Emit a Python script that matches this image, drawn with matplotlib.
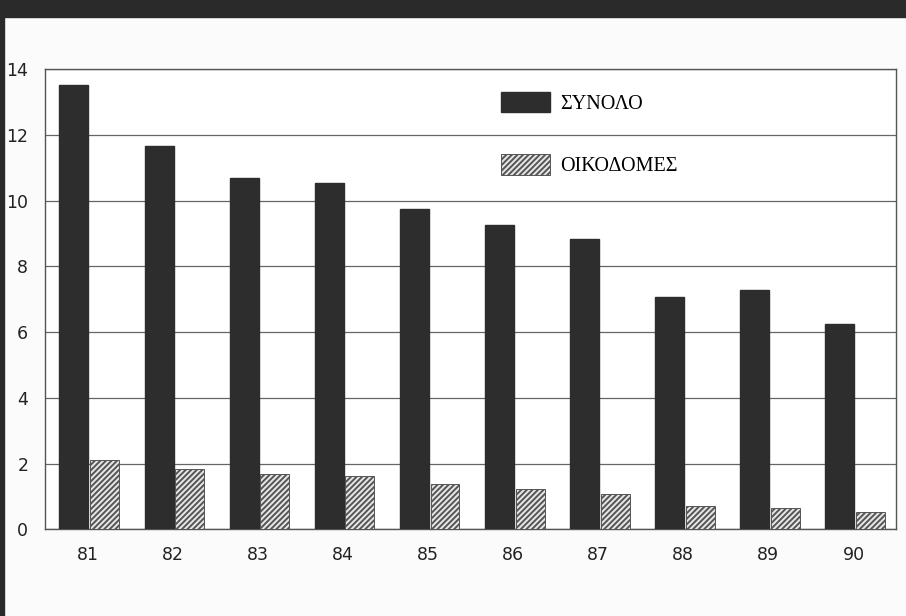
import matplotlib
matplotlib.use("Agg")
import matplotlib.pyplot as plt
from matplotlib.patches import Rectangle
import numpy as np

years = ["81", "82", "83", "84", "85", "86", "87", "88", "89", "90"]
synolo = [13.5, 11.66, 10.67, 10.52, 9.73, 9.25, 8.82, 7.07, 7.27, 6.24]
oikodomes = [2.11, 1.83, 1.69, 1.62, 1.37, 1.22, 1.06, 0.71, 0.64, 0.52]
yticks = [0, 2, 4, 6, 8, 10, 12, 14]

fig = plt.figure(figsize=(9.06, 6.16), dpi=100)
fig.patch.set_facecolor("#fbfbfb")
# dark scan borders
fig.patches.append(Rectangle((0, 0.973), 1, 0.027, transform=fig.transFigure, color="#2a2a2a", zorder=0))
fig.patches.append(Rectangle((0, 0), 0.004, 1, transform=fig.transFigure, color="#2a2a2a", zorder=0))

ax = fig.add_axes([0.0497, 0.1407, 0.9393, 0.7473])
ax.set_facecolor("white")

x = np.arange(len(years))
w = 0.34
plt.rcParams["hatch.linewidth"] = 1.4
plt.rcParams["hatch.color"] = "#3a3a3a"
ax.bar(x - w / 2 + 0.01, synolo, width=w, color="#2d2d2d", edgecolor="#2d2d2d", zorder=3, label="ΣΥΝΟΛΟ")
ax.bar(x + w / 2 + 0.03, oikodomes, width=w, color="#e6e6e6", edgecolor="#555555",
       hatch="//////", linewidth=0.7, zorder=3, label="ΟΙΚΟΔΟΜΕΣ")

ax.set_xlim(-0.5, len(years) - 0.5)
ax.set_ylim(0, 14)
ax.set_yticks(yticks)
ax.set_xticks(x)
ax.set_xticklabels(years)
ax.yaxis.grid(True, color="#666666", linewidth=0.9, zorder=0)
ax.tick_params(axis="both", length=0, labelsize=12.5, colors="#222222")
ax.tick_params(axis="y", pad=12)
ax.tick_params(axis="x", pad=12)
for s in ax.spines.values():
    s.set_color("#555555")
    s.set_linewidth(1.0)

leg = ax.legend(loc="upper left", bbox_to_anchor=(0.515, 0.99), frameon=False,
                prop={"family": "Liberation Serif", "size": 14.5},
                handlelength=2.4, handleheight=1.2, labelspacing=2.0, handletextpad=0.5)

plt.savefig("out.png", dpi=100, facecolor=fig.get_facecolor())
